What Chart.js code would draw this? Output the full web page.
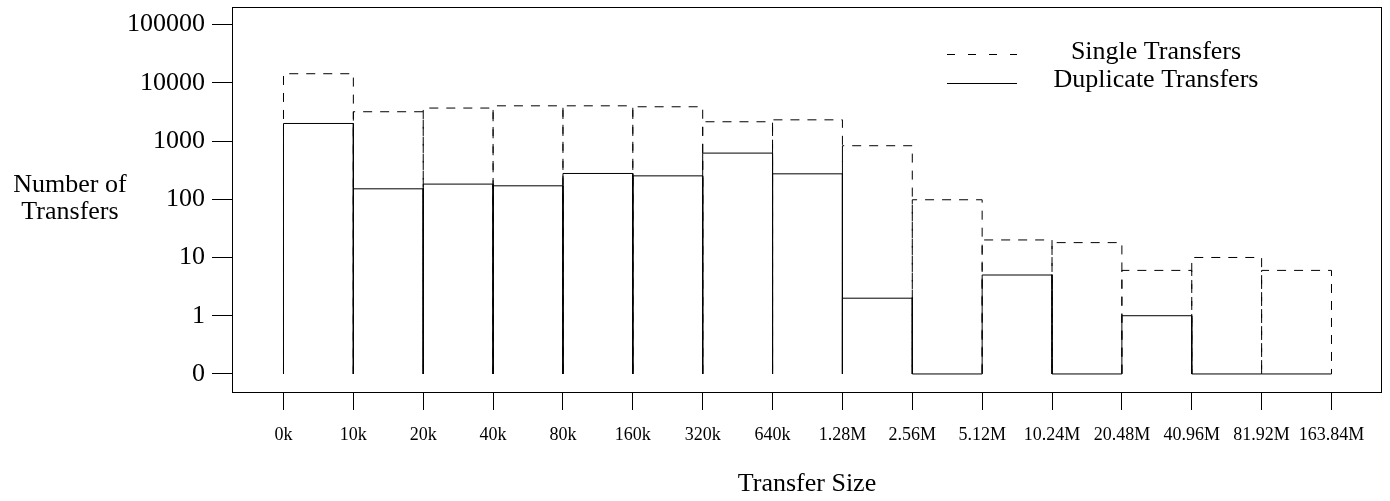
<!DOCTYPE html>
<html>
<head>
<meta charset="utf-8">
<title>Transfer Size Histogram</title>
<script src="https://cdn.jsdelivr.net/npm/chart.js@4.4.1/dist/chart.umd.min.js"></script>
<style>
    html, body { margin: 0; padding: 0; background: #fff; }
    #wrap { width: 1390px; height: 501px; position: relative; }
</style>
</head>
<body>
<div id="wrap"><canvas id="histChart"></canvas></div>
<script>
// DATA

const sizeLabels = ['0k', '10k', '20k', '40k', '80k', '160k', '320k', '640k', '1.28M', '2.56M',
    '5.12M', '10.24M', '20.48M', '40.96M', '81.92M', '163.84M'];
const singleTransfers = [14300, 3180, 3680, 4020, 4020, 3870, 2140, 2310, 830, 98, 20, 18, 6, 10, 6];
const duplicateTransfers = [2000, 151, 182, 170, 277, 252, 620, 273, 2, 0, 5, 0, 1, 0, 0];
const yTickValues = [0, 1, 10, 100, 1000, 10000, 100000];

// the log axis puts "0" one decade below 1
const ZERO_LEVEL = 0.1;
const FONT = "'Liberation Serif', 'Times New Roman', serif";

// each bin is an open box: left side, top, right side
function binOutline(values) {
    const pts = [];
    values.forEach((v, i) => {
        const y = v > 0 ? v : ZERO_LEVEL;
        pts.push({x: i, y: ZERO_LEVEL}, {x: i, y: y}, {x: i + 1, y: y}, {x: i + 1, y: ZERO_LEVEL});
        pts.push({x: i + 1, y: null});
    });
    return pts;
}

// PLUGIN: frame, horizontal y title, centred legend

const decorPlugin = {
    id: 'decor',
    afterDraw(chart, args, opts) {
        const {ctx, chartArea: a} = chart;
        ctx.save();
        ctx.strokeStyle = '#000';
        ctx.lineWidth = 1;
        ctx.strokeRect(Math.round(a.left) + 0.5, Math.round(a.top) + 0.5,
            Math.round(a.right - a.left) - 1, Math.round(a.bottom - a.top));

        ctx.fillStyle = '#000';
        ctx.font = `26px ${FONT}`;
        ctx.textAlign = 'center';
        ctx.textBaseline = 'alphabetic';
        opts.yTitle.forEach((line, i) => {
            ctx.fillText(line, opts.yTitleX, opts.yTitleY + i * 26.5);
        });

        ctx.textBaseline = 'middle';
        chart.data.datasets.forEach((ds, i) => {
            const y = opts.legendY + i * opts.legendGap;
            ctx.beginPath();
            ctx.setLineDash(i === 0 ? [8, 13] : []);
            ctx.moveTo(opts.legendLineX[0], Math.round(y + 2) + 0.5);
            ctx.lineTo(opts.legendLineX[1], Math.round(y + 2) + 0.5);
            ctx.stroke();
            ctx.setLineDash([]);
            ctx.fillText(ds.label, opts.legendTextX, y);
        });
        ctx.restore();
    }
};

// CHART

const ctx = document.getElementById('histChart');

new Chart(ctx, {
    type: 'line',
    data: {
        datasets: [{
            label: 'Single Transfers',
            data: binOutline(singleTransfers),
            borderColor: '#000',
            borderWidth: 1,
            borderDash: [9, 8],
            pointRadius: 0,
            fill: false,
            spanGaps: false,
            tension: 0
        }, {
            label: 'Duplicate Transfers',
            data: binOutline(duplicateTransfers),
            borderColor: '#000',
            borderWidth: 1,
            pointRadius: 0,
            fill: false,
            spanGaps: false,
            tension: 0
        }]
    },
    options: {
        responsive: true,
        maintainAspectRatio: false,
        animation: false,
        layout: {
            padding: {top: 7, right: 8, bottom: 0, left: 0}
        },
        plugins: {
            legend: {display: false},
            tooltip: {enabled: false},
            decor: {
                yTitle: ['Number of', 'Transfers'],
                yTitleX: 70,
                yTitleY: 192,
                legendY: 52,
                legendGap: 28.5,
                legendLineX: [947, 1017],
                legendTextX: 1156
            }
        },
        scales: {
            x: {
                type: 'linear',
                min: -0.737,
                max: 15.723,
                afterFit: (scale) => {
                    scale.height = 109;
                    scale.paddingLeft = 0;
                    scale.paddingRight = 0;
                },
                afterBuildTicks: (scale) => {
                    scale.ticks = sizeLabels.map((_, i) => ({value: i}));
                },
                border: {display: false},
                grid: {
                    drawOnChartArea: false,
                    drawTicks: true,
                    tickLength: 18,
                    color: '#000'
                },
                ticks: {
                    autoSkip: false,
                    maxRotation: 0,
                    padding: 14,
                    color: '#000',
                    font: {family: FONT, size: 18},
                    callback: (value, index) => sizeLabels[index]
                },
                title: {
                    display: true,
                    text: 'Transfer Size',
                    color: '#000',
                    font: {family: FONT, size: 26},
                    padding: {top: 0, bottom: 1}
                }
            },
            y: {
                type: 'logarithmic',
                min: 0.049,
                max: 200000,
                afterFit: (scale) => {
                    scale.width = 232;
                    scale.paddingTop = 0;
                    scale.paddingBottom = 0;
                },
                afterBuildTicks: (scale) => {
                    scale.ticks = yTickValues.map(v => ({value: v > 0 ? v : ZERO_LEVEL}));
                },
                border: {display: false},
                grid: {
                    drawOnChartArea: false,
                    drawTicks: true,
                    tickLength: 20,
                    color: '#000'
                },
                ticks: {
                    padding: 7,
                    color: '#000',
                    font: {family: FONT, size: 26},
                    callback: (value, index) => String(yTickValues[index])
                }
            }
        }
    },
    plugins: [decorPlugin]
});
</script>
</body>
</html>
